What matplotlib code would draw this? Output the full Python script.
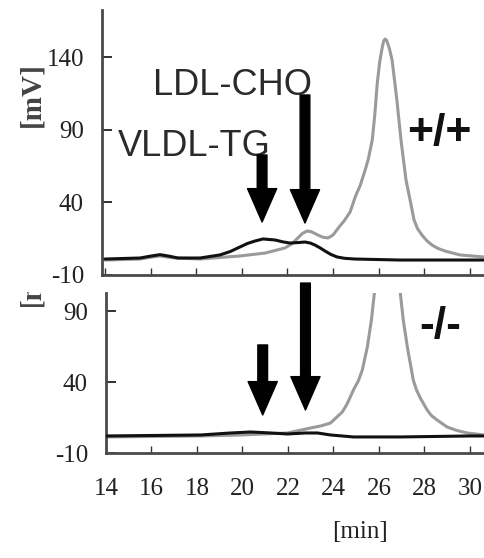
import matplotlib
matplotlib.use("Agg")
import matplotlib.pyplot as plt
from matplotlib.transforms import Bbox

plt.rcParams["axes.unicode_minus"] = False

# ---------------- data ----------------
# +/+ panel
wt_time_gray = [14.0, 15.54, 16.0, 16.41, 16.8, 17.07, 18.17, 19.92, 21.02, 21.89, 22.2,
                22.46, 22.65, 22.86, 23.05, 23.34, 23.55, 23.78, 24.0, 24.30, 24.5,
                24.75, 24.98, 25.2, 25.41, 25.55, 25.72, 25.83, 25.94, 26.05, 26.16,
                26.22, 26.28, 26.35, 26.47, 26.59, 26.80, 26.98, 27.20, 27.38, 27.55,
                27.7, 27.90, 28.1, 28.34, 28.6, 28.91, 29.57, 30.62]
wt_gray = [0.3, 1.0, 2.2, 3.1, 2.2, 1.7, 1.0, 3.1, 5.1, 8.6, 11.5,
           15.5, 18.5, 20.3, 19.8, 17.5, 16.0, 15.5, 17.5, 23.7, 27.5,
           33.4, 44.0, 52.0, 62.3, 70.0, 82.9, 100.0, 122.1, 137.0, 146.9,
           151.0, 152.4, 151.5, 146.0, 138.0, 110.4, 82.9, 55.4, 41.6, 28.0,
           22.0, 17.5, 13.8, 10.6, 8.3, 6.5, 3.8, 2.4]
wt_time_black = [14.0, 15.54, 16.0, 16.41, 16.8, 17.2, 18.17, 19.04, 19.5, 19.92, 20.25,
                 20.58, 20.93, 21.46, 21.8, 22.11, 22.45, 22.77, 23.0, 23.21, 23.45,
                 23.65, 23.9, 24.18, 24.5, 24.96, 26.94, 30.62]
wt_black = [1.0, 1.7, 3.0, 4.0, 3.0, 1.7, 1.7, 3.8, 6.2, 9.3, 11.7,
            13.4, 14.8, 14.1, 12.8, 12.0, 12.3, 12.7, 12.0, 10.6, 8.5,
            6.5, 4.2, 2.4, 1.5, 1.0, 0.3, 0.3]

# -/- panel
ko_time_gray = [14.0, 18.17, 19.92, 21.98, 22.99, 23.43, 23.87, 24.39, 24.6, 24.88, 25.1,
                25.27, 25.49, 25.67, 25.80, 25.95, 26.3, 26.65, 26.94, 27.07, 27.25,
                27.51, 27.65, 27.82, 28.12, 28.3, 28.56, 29.0, 29.4, 29.88, 30.62]
ko_gray = [1.3, 2.0, 2.7, 4.1, 7.6, 9.0, 11.1, 18.9, 24.5, 34.4, 41.0,
           48.5, 64.6, 83.7, 102.7, 130.0, 165.0, 130.0, 102.7, 83.7, 64.6,
           41.4, 34.5, 28.7, 20.3, 16.5, 13.2, 8.3, 6.0, 4.1, 2.7]
ko_time_black = [14.0, 18.17, 19.48, 20.36, 21.24, 21.98, 22.77, 23.30, 23.87, 24.88, 26.94,
                 30.0, 30.62]
ko_black = [2.0, 2.7, 4.1, 4.8, 4.1, 3.4, 4.1, 4.1, 2.7, 1.3, 1.3, 2.0, 2.0]

x_ticks = [14, 16, 18, 20, 22, 24, 26, 28, 30]
wt_yticks = [-10, 40, 90, 140]
ko_yticks = [-10, 40, 90]

vldl_time = 20.89
ldl_time = 22.77
wt_arrows = [(vldl_time, 72.6, 26.5), (ldl_time, 113.9, 25.8)]
ko_arrows = [(vldl_time, 66.1, 16.8), (ldl_time, 109.7, 20.3)]

# ---------------- figure ----------------
W, H = 484, 558
fig = plt.figure(figsize=(W / 100, H / 100), dpi=100)

def px_axes(left, top, right, bottom):
    return fig.add_axes([left / W, 1 - bottom / H, (right - left) / W, (bottom - top) / H])

ax1 = px_axes(102, 10, 484, 275)
ax2 = px_axes(106, 293, 484, 453)

gray = "#9a9a9a"
black = "#111111"
serif = "Liberation Serif"
sans = "Liberation Sans"

for ax in (ax1, ax2):
    for s in ("top", "right"):
        ax.spines[s].set_visible(False)
    for s in ("left", "bottom"):
        ax.spines[s].set_color("#4a4a4a")
        ax.spines[s].set_linewidth(2.0)
    ax.set_xticks(x_ticks)
    ax.tick_params(axis="y", direction="in", length=7, width=1.3, color="#222",
                   pad=13, labelsize=18)
    ax.tick_params(axis="x", direction="in", length=5, width=1.0, color="#333",
                   pad=18, labelsize=18)

line_kw = dict(lw=2.2, solid_joinstyle="round", solid_capstyle="round")
ax1.plot(wt_time_gray, wt_gray, color=gray, zorder=2, **line_kw)
ax1.plot(wt_time_black, wt_black, color=black, zorder=3, **line_kw)
ax1.set_xlim(13.87, 30.62)
ax1.set_ylim(-10, 172.4)
ax1.set_yticks(wt_yticks)
ax1.tick_params(axis="x", labelbottom=False)

ax2.plot(ko_time_gray, ko_gray, color=gray, zorder=2, **line_kw)
ax2.plot(ko_time_black, ko_black, color=black, zorder=3, **line_kw)
ax2.set_xlim(14.0, 30.62)
ax2.set_ylim(-10, 102.7)
ax2.set_yticks(ko_yticks)

for ax in (ax1, ax2):
    for lab in ax.get_xticklabels() + ax.get_yticklabels():
        lab.set_fontfamily(serif)
        lab.set_color("#222")

arrowprops = dict(facecolor="black", edgecolor="black", width=7, headwidth=21,
                  headlength=24, shrink=0.0)
for ax, arrows in ((ax1, wt_arrows), (ax2, ko_arrows)):
    for t, y0, y1 in arrows:
        ax.annotate("", xy=(t, y1), xytext=(t, y0), arrowprops=arrowprops,
                    annotation_clip=False, zorder=5)

ax1.text(16.1, 113.9, "LDL-CHO", fontsize=26, family=sans, color="#2a2a2a",
         ha="left", va="baseline")
ax1.text(14.55, 71.9, "VLDL-TG", fontsize=26, family=sans, color="#2a2a2a",
         ha="left", va="baseline")
ax1.text(28.65, 87.7, "+/+", fontsize=32, family=sans, weight="bold",
         color="#111", ha="center", va="center")
ax2.text(28.69, 79.4, "-/-", fontsize=32, family=sans, weight="bold",
         color="#111", ha="center", va="center")

ax2.set_xlabel("[min]", fontsize=18, family=serif, color="#222")
ax2.xaxis.set_label_coords(0.671, -0.494)
ax2.xaxis.label.set_va("center")

fig.text(32 / W, 1 - 95 / H, "[mV]", rotation=90, fontsize=21, family=serif,
         weight="bold", color="#444", ha="center", va="center")
t = fig.text(32 / W, 1 - 307 / H, "[mV]", rotation=90, fontsize=21, family=serif,
             weight="bold", color="#444", ha="center", va="bottom")
t.set_clip_box(Bbox.from_extents(0, H - 307, 60, H - 292))
t.set_clip_on(True)

fig.savefig("out.png", dpi=100)
